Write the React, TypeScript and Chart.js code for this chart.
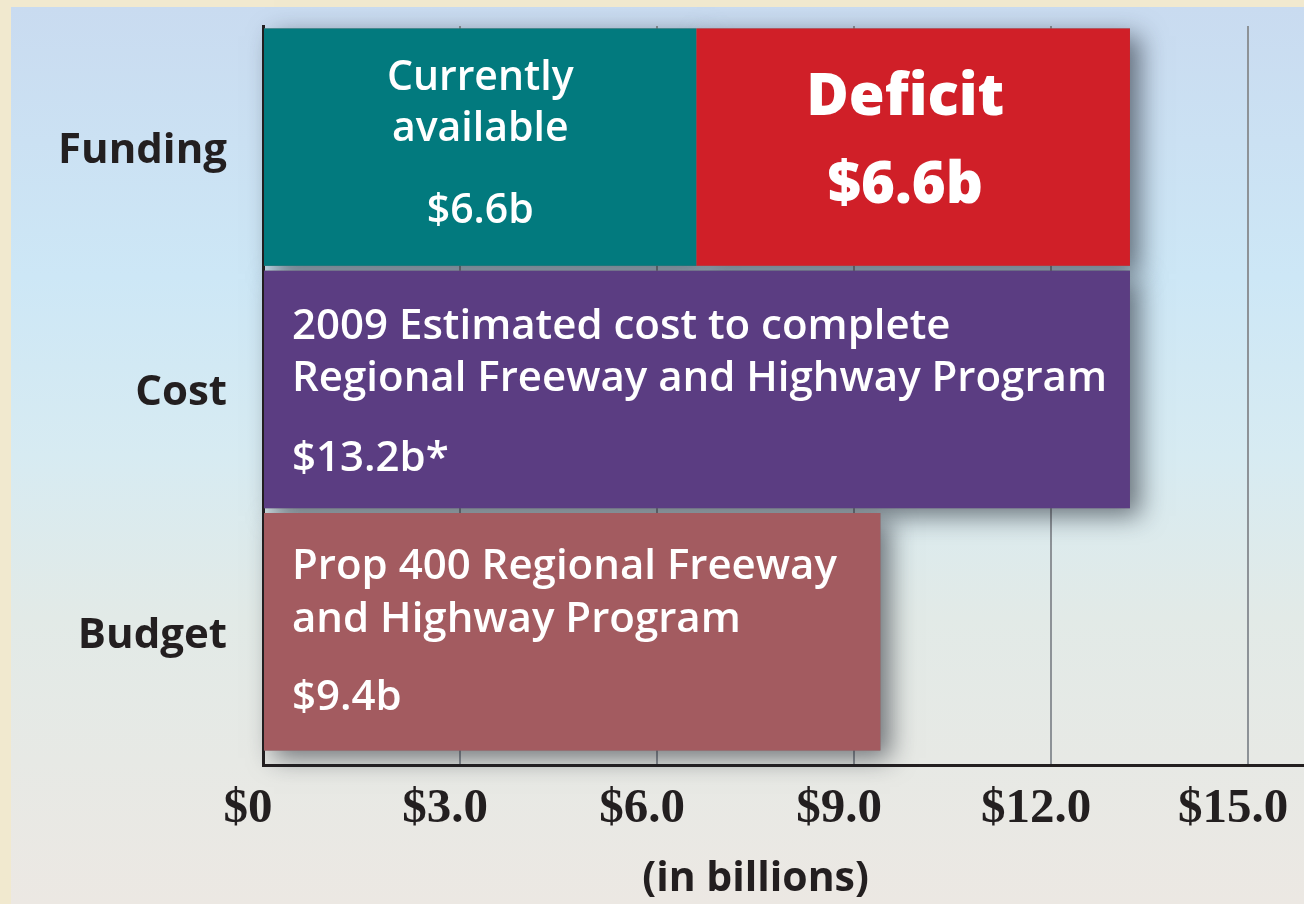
import React, { useEffect, useRef } from 'react';
import { Chart, registerables } from 'chart.js';

Chart.register(...registerables);

// ---- data ----
const categories = ['Funding', 'Cost', 'Budget'];
const categoryPositions = [0, 1, 2];
const barValues = [6.6, 13.2, 9.4]; // available funding, estimated cost, prop 400 budget
const deficitStart = 6.6;
const deficitEnd = 13.2;
const xTickValues = [0, 3, 6, 9, 12, 15];
const xAxisTitle = '(in billions)';

const availableLines = ['Currently', 'available', '$6.6b'];
const deficitLines = ['Deficit', '$6.6b'];
const costLines = ['2009 Estimated cost to complete', 'Regional Freeway and Highway Program', '$13.2b*'];
const budgetLines = ['Prop 400 Regional Freeway', 'and Highway Program', '$9.4b'];

// ---- styles ----
const barColors = ['#027a7e', '#5b3d82', '#a35b60'];
const deficitColor = '#d01f28';
const inkColor = '#231f20';
const SANS = '"Open Sans", "Lato", sans-serif';
const SERIF = '"Liberation Serif", "DejaVu Serif", serif';

type Rect = { left: number; right: number; top: number; bottom: number };
const rectOf = (el: any): Rect => {
  const p = el.getProps(['x', 'y', 'base', 'height'], true);
  return {
    left: Math.min(p.x, p.base),
    right: Math.max(p.x, p.base),
    top: p.y - p.height / 2,
    bottom: p.y + p.height / 2,
  };
};

const backgroundPlugin = {
  id: 'panelBackground',
  beforeDraw(chart: any) {
    const { ctx, width, height } = chart;
    ctx.save();
    ctx.fillStyle = '#f1e9cf';
    ctx.fillRect(0, 0, width, height);
    const g = ctx.createLinearGradient(0, 7, 0, height);
    g.addColorStop(0, '#c9dbf0');
    g.addColorStop(0.3, '#cde7f6');
    g.addColorStop(0.5, '#d7ebf2');
    g.addColorStop(0.68, '#e2eae7');
    g.addColorStop(1, '#ece8e3');
    ctx.fillStyle = g;
    ctx.fillRect(11, 7, width - 11, height - 7);
    ctx.restore();
  },
};

const shadowPlugin = {
  id: 'barShadows',
  beforeDatasetsDraw(chart: any) {
    const ctx = chart.ctx;
    ctx.save();
    ctx.shadowColor = 'rgba(30,35,45,0.6)';
    ctx.shadowBlur = 24;
    ctx.shadowOffsetX = 10;
    ctx.shadowOffsetY = 8;
    chart.data.datasets.forEach((_: any, di: number) => {
      const meta = chart.getDatasetMeta(di);
      meta.data.forEach((el: any) => {
        const r = rectOf(el);
        ctx.fillStyle = '#777';
        ctx.fillRect(r.left, r.top, r.right - r.left, r.bottom - r.top);
      });
    });
    ctx.restore();
  },
};

const textPlugin = {
  id: 'barTexts',
  afterDatasetsDraw(chart: any) {
    const ctx = chart.ctx;
    const baseBars = chart.getDatasetMeta(0).data;
    const deficitBar = chart.getDatasetMeta(1).data[0];
    ctx.save();
    ctx.fillStyle = '#ffffff';
    ctx.textBaseline = 'middle';

    const a = rectOf(baseBars[0]);
    ctx.textAlign = 'center';
    ctx.font = `600 41px ${SANS}`;
    const ax = (a.left + a.right) / 2;
    ctx.fillText(availableLines[0], ax, a.top + 50);
    ctx.fillText(availableLines[1], ax, a.top + 101);
    ctx.fillText(availableLines[2], ax, a.top + 183);

    const d = rectOf(deficitBar);
    const dx = (d.left + d.right) / 2 - 8;
    ctx.font = `800 58px ${SANS}`;
    ctx.fillText(deficitLines[0], dx, d.top + 70);
    ctx.fillText(deficitLines[1], dx, d.top + 158);

    ctx.textAlign = 'left';
    ctx.font = `600 42px ${SANS}`;
    const c = rectOf(baseBars[1]);
    ctx.fillText(costLines[0], c.left + 28, c.top + 56);
    ctx.fillText(costLines[1], c.left + 28, c.top + 108);
    ctx.fillText(costLines[2], c.left + 28, c.top + 188);

    const b = rectOf(baseBars[2]);
    ctx.fillText(budgetLines[0], b.left + 28, b.top + 54);
    ctx.fillText(budgetLines[1], b.left + 28, b.top + 107);
    ctx.fillText(budgetLines[2], b.left + 28, b.top + 185);
    ctx.restore();
  },
  afterDraw(chart: any) {
    const ctx = chart.ctx;
    const xs = chart.scales.x;
    const cx = (xs.getPixelForValue(xTickValues[0]) + xs.getPixelForValue(xTickValues[xTickValues.length - 1])) / 2;
    ctx.save();
    ctx.fillStyle = inkColor;
    ctx.font = `700 41px ${SANS}`;
    ctx.textAlign = 'center';
    ctx.textBaseline = 'middle';
    ctx.fillText(xAxisTitle, cx, xs.bottom - 25);
    ctx.restore();
  },
};

export default function App() {
  const canvasRef = useRef<HTMLCanvasElement | null>(null);

  useEffect(() => {
    if (!canvasRef.current) return;
    const chart = new Chart(canvasRef.current, {
      type: 'bar',
      data: {
        datasets: [
          {
            label: 'Amount',
            data: categoryPositions.map((y, i) => ({ x: barValues[i], y })),
            backgroundColor: barColors,
            borderWidth: 0,
            grouped: false,
            barPercentage: 0.98,
            categoryPercentage: 1,
            order: 2,
          } as any,
          {
            label: 'Deficit',
            data: [{ x: [deficitStart, deficitEnd], y: categoryPositions[0] }],
            backgroundColor: deficitColor,
            borderWidth: 0,
            grouped: false,
            barPercentage: 0.98,
            categoryPercentage: 1,
            order: 1,
          } as any,
        ],
      },
      options: {
        indexAxis: 'y',
        responsive: false,
        animation: false,
        devicePixelRatio: 1,
        layout: { padding: { left: 0, right: 0, top: 26, bottom: 0 } },
        plugins: {
          legend: { display: false },
          tooltip: { enabled: false },
        },
        scales: {
          x: {
            type: 'linear',
            min: 0,
            max: 15.85,
            offset: false,
            afterFit: (s: any) => {
              s.height = 139;
              s.paddingLeft = 0;
              s.paddingRight = 0;
            },
            afterBuildTicks: (s: any) => {
              s.ticks = xTickValues.map((v) => ({ value: v }));
            },
            ticks: {
              includeBounds: false,
              color: inkColor,
              font: { family: SERIF, size: 49, weight: 'bold' },
              padding: 15,
              labelOffset: -15,
              maxRotation: 0,
              autoSkip: false,
              callback: (v: any) => (Number(v) === 0 ? '$0' : `$${Number(v).toFixed(1)}`),
            },
            grid: { color: '#8d9297', lineWidth: 2, drawTicks: false },
            border: { color: inkColor, width: 3 },
          },
          y: {
            type: 'linear',
            reverse: true,
            offset: false,
            min: -0.5,
            max: 2.55,
            afterFit: (s: any) => {
              s.width = 263;
              s.paddingTop = 0;
              s.paddingBottom = 0;
            },
            afterBuildTicks: (s: any) => {
              s.ticks = categoryPositions.map((v) => ({ value: v }));
            },
            ticks: {
              includeBounds: false,
              color: inkColor,
              font: { family: SANS, size: 42, weight: 'bold' },
              padding: 36,
              labelOffset: 4,
              autoSkip: false,
              callback: (v: any) => categories[Number(v)] ?? '',
            },
            grid: { display: false, drawTicks: false },
            border: { color: inkColor, width: 3 },
          },
        },
      },
      plugins: [backgroundPlugin, shadowPlugin, textPlugin],
    } as any);
    return () => chart.destroy();
  }, []);

  return (
    <div style={{ position: 'fixed', left: 0, top: 0, width: 1304, height: 904 }}>
      <canvas ref={canvasRef} width={1304} height={904} style={{ display: 'block', width: 1304, height: 904 }} />
    </div>
  );
}
